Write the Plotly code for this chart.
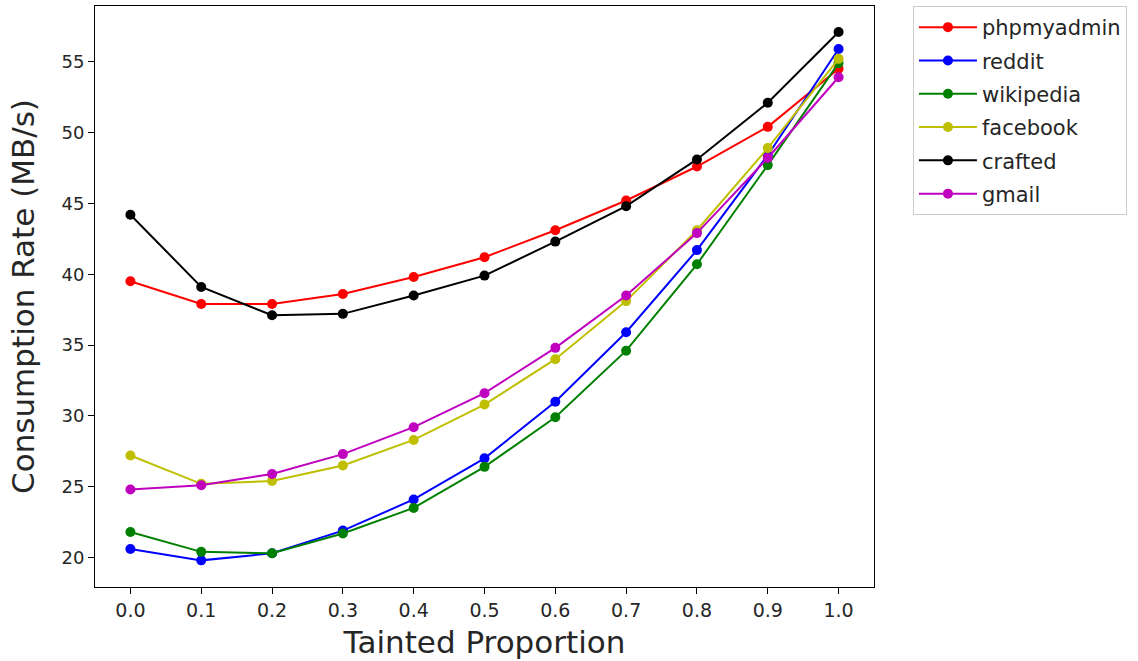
import plotly.graph_objects as go

x_vals = [0.0, 0.1, 0.2, 0.3, 0.4, 0.5, 0.6, 0.7, 0.8, 0.9, 1.0]
x_tick_labels = ["0.0", "0.1", "0.2", "0.3", "0.4", "0.5", "0.6", "0.7", "0.8", "0.9", "1.0"]
y_tick_vals = [20, 25, 30, 35, 40, 45, 50, 55]

phpmyadmin = [39.5, 37.9, 37.9, 38.6, 39.8, 41.2, 43.1, 45.2, 47.6, 50.4, 54.5]
reddit = [20.6, 19.8, 20.3, 21.9, 24.1, 27.0, 31.0, 35.9, 41.7, 48.4, 55.9]
wikipedia = [21.8, 20.4, 20.3, 21.7, 23.5, 26.4, 29.9, 34.6, 40.7, 47.7, 54.9]
facebook = [27.2, 25.2, 25.4, 26.5, 28.3, 30.8, 34.0, 38.1, 43.1, 48.9, 55.2]
crafted = [44.2, 39.1, 37.1, 37.2, 38.5, 39.9, 42.3, 44.8, 48.1, 52.1, 57.1]
gmail = [24.8, 25.1, 25.9, 27.3, 29.2, 31.6, 34.8, 38.5, 42.9, 48.2, 53.9]

series = [
    ("phpmyadmin", phpmyadmin, "#ff0000"),
    ("reddit", reddit, "#0000ff"),
    ("wikipedia", wikipedia, "#008000"),
    ("facebook", facebook, "#bfbf00"),
    ("crafted", crafted, "#000000"),
    ("gmail", gmail, "#bf00bf"),
]

fig = go.Figure()
for name, vals, color in series:
    fig.add_trace(go.Scatter(
        x=x_vals, y=vals, name=name, mode="lines+markers",
        line=dict(color=color, width=2),
        marker=dict(color=color, size=10),
        legendgroup=name,
    ))

font_family = "DejaVu Sans"
fig.update_layout(
    width=1138, height=661,
    margin=dict(l=95, r=264, t=6, b=74),
    paper_bgcolor="white", plot_bgcolor="white",
    font=dict(family=font_family, color="#262626"),
    showlegend=True,
    legend=dict(
        x=1.05, y=1.0, xanchor="left", yanchor="top",
        bordercolor="#cccccc", borderwidth=1,
        font=dict(family=font_family, size=21, color="#262626"),
        tracegroupgap=3,
        itemwidth=58,
    ),
    xaxis=dict(
        range=[-0.05, 1.05],
        tickmode="array", tickvals=x_vals, ticktext=x_tick_labels,
        showgrid=False, zeroline=False,
        showline=True, linecolor="black", linewidth=1, mirror=True,
        ticks="outside", ticklen=6, tickcolor="black",
        tickfont=dict(size=19, family=font_family, color="#262626"),
        title=dict(text="Tainted Proportion", font=dict(size=31, family=font_family, color="#262626"), standoff=11),
    ),
    yaxis=dict(
        range=[17.92, 58.93],
        tickmode="array", tickvals=y_tick_vals,
        showgrid=False, zeroline=False,
        showline=True, linecolor="black", linewidth=1, mirror=True,
        ticks="outside", ticklen=6, tickcolor="black",
        tickfont=dict(size=18, family=font_family, color="#262626"),
        title=dict(text="Consumption Rate (MB/s)", font=dict(size=31, family=font_family, color="#262626"), standoff=17),
    ),
)

fig.write_html("out.html")
